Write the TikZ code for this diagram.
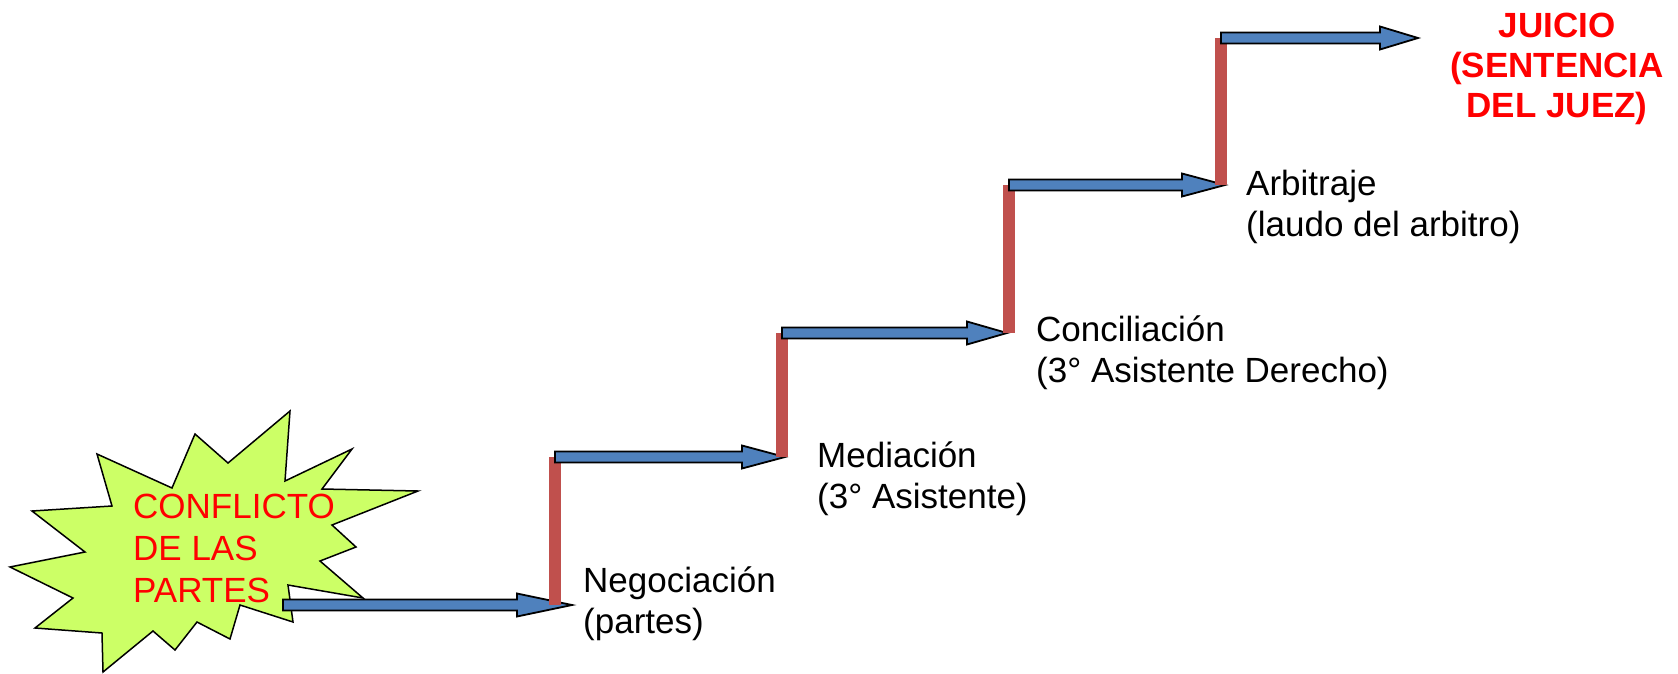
\documentclass[tikz,border=0pt]{standalone}
\usepackage{fontspec}
\setmainfont{Liberation Sans}
\usetikzlibrary{calc}

\definecolor{riserred}{RGB}{192,80,77}
\definecolor{arrowblue}{RGB}{79,129,189}
\definecolor{burstgreen}{RGB}{204,255,102}

% block arrow: [head length]{from}{tip}
\newcommand{\blockarrow}[3][45]{%
  \filldraw[steparrow] ($(#2)+(0,-5.5)$) -- ($(#3)+(-#1,-5.5)$) -- ($(#3)+(-#1,-11.5)$)
    -- (#3) -- ($(#3)+(-#1,11.5)$) -- ($(#3)+(-#1,5.5)$) -- ($(#2)+(0,5.5)$) -- cycle;}

\begin{document}
\begin{tikzpicture}[
  x=1pt, y=-1pt,
  steparrow/.style={fill=arrowblue, draw=black, line width=1.8pt, line join=miter},
  riser/.style={riserred, line width=12pt},
  burst/.style={fill=burstgreen, draw=black, line width=1.5pt},
  steplabel/.style={font=\fontsize{35}{40.5}\selectfont, align=left, inner sep=0pt, anchor=base west},
  redtext/.style={font=\fontsize{35}{42}\selectfont, text=red, align=left, inner sep=0pt, anchor=base west}
]
  \useasboundingbox (0,0) rectangle (1678,673);

  % Draw the starburst of the conflict
  \filldraw[burst] (290,411) -- (285,481) -- (352,449) -- (322,489) -- (418,491)
    -- (332,525) -- (356,547) -- (320,561) -- (363,598) -- (288,585) -- (293,622)
    -- (240,605) -- (230,639) -- (197,622) -- (175,650) -- (153,631) -- (103,672)
    -- (102,633) -- (35,628) -- (73,598) -- (10,567) -- (85,552) -- (32,511)
    -- (112,506) -- (97,454) -- (172,488) -- (195,434) -- (228,463) -- cycle;

  % Staircase corners
  \coordinate (start) at (283,605);
  \coordinate (neg) at (555,605);   \coordinate (negtop) at (555,457);
  \coordinate (med) at (782,457);   \coordinate (medtop) at (782,333);
  \coordinate (con) at (1009,333);  \coordinate (contop) at (1009,185);
  \coordinate (arb) at (1221,185);  \coordinate (arbtop) at (1221,38);
  \coordinate (juicio) at (1418,38);

  % Draw the steps: arrow, then riser
  \blockarrow[55]{start}{$(neg)+(17,0)$}
  \draw[riser] (neg) -- (negtop);
  \blockarrow[43]{negtop}{$(med)+(3,0)$}
  \draw[riser] (med) -- (medtop);
  \blockarrow[40]{medtop}{$(con)+(-2,0)$}
  \draw[riser] (con) -- (contop);
  \blockarrow[43]{contop}{$(arb)+(4,0)$}
  \draw[riser] (arb) -- (arbtop);
  \blockarrow[38]{arbtop}{juicio}

  % Labels (base = last line)
  \node[redtext] (conflicto) at (133,602) {CONFLICTO\\DE LAS\\PARTES};
  \node[steplabel] (negociacion) at (583,633) {Negociación\\(partes)};
  \node[steplabel] (mediacion) at (817,508) {Mediación\\(3° Asistente)};
  \node[steplabel] (conciliacion) at (1036,382) {Conciliación\\(3° Asistente Derecho)};
  \node[steplabel] (arbitraje) at (1246,236) {Arbitraje\\(laudo del arbitro)};
  \node[font=\fontsize{35}{40}\selectfont\bfseries, text=red, align=center, inner sep=0pt, anchor=base]
    (sentencia) at (1557,117) {JUICIO\\(SENTENCIA\\DEL JUEZ)};

\end{tikzpicture}
\end{document}
